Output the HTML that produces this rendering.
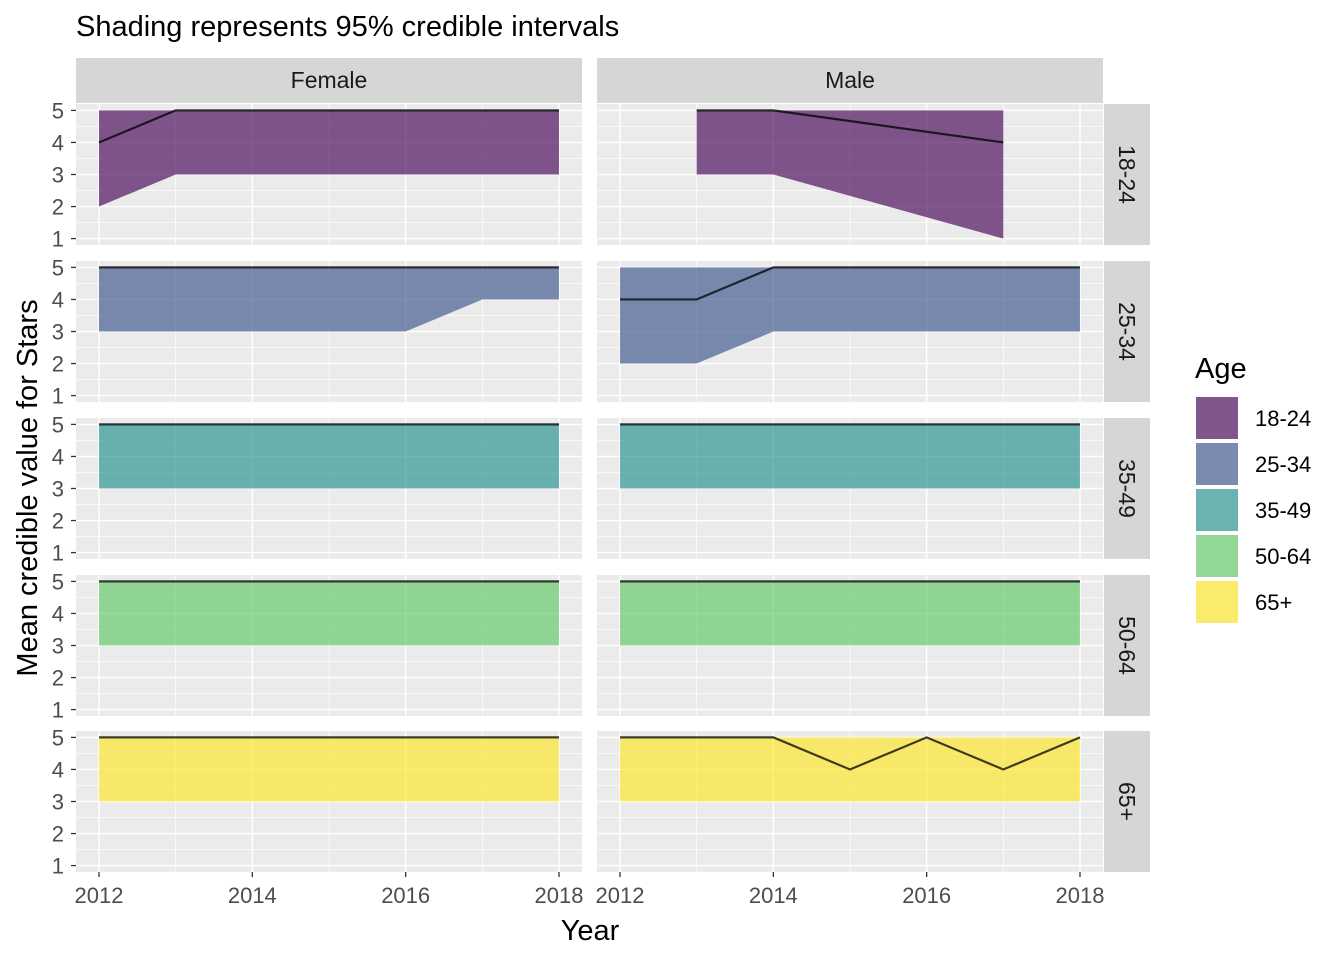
<!DOCTYPE html>
<html><head><meta charset="utf-8"><style>body{margin:0;background:#fff}svg{display:block;font-family:"Liberation Sans",Arial,sans-serif}</style></head>
<body>
<svg id="c" width="1344" height="960" xmlns="http://www.w3.org/2000/svg"></svg>
<script>
const ages=["18-24","25-34","35-49","50-64","65+"];
const sexes=["Female","Male"];
const colors=["#440154","#3B528B","#21908C","#5DC863","#FDE725"];
const yTicks=[1,2,3,4,5];
const xTicks=[2012,2014,2016,2018];
const years={
 "Female":[[2012,2013,2014,2015,2016,2017,2018],[2012,2013,2014,2015,2016,2017,2018],[2012,2013,2014,2015,2016,2017,2018],[2012,2013,2014,2015,2016,2017,2018],[2012,2013,2014,2015,2016,2017,2018]],
 "Male":[[2013,2014,2017],[2012,2013,2014,2015,2016,2017,2018],[2012,2013,2014,2015,2016,2017,2018],[2012,2013,2014,2015,2016,2017,2018],[2012,2013,2014,2015,2016,2017,2018]]
};
const means={
 "Female":[[4,5,5,5,5,5,5],[5,5,5,5,5,5,5],[5,5,5,5,5,5,5],[5,5,5,5,5,5,5],[5,5,5,5,5,5,5]],
 "Male":[[5,5,4],[4,4,5,5,5,5,5],[5,5,5,5,5,5,5],[5,5,5,5,5,5,5],[5,5,5,4,5,4,5]]
};
const lowers={
 "Female":[[2,3,3,3,3,3,3],[3,3,3,3,3,4,4],[3,3,3,3,3,3,3],[3,3,3,3,3,3,3],[3,3,3,3,3,3,3]],
 "Male":[[3,3,1],[2,2,3,3,3,3,3],[3,3,3,3,3,3,3],[3,3,3,3,3,3,3],[3,3,3,3,3,3,3]]
};
const uppers={
 "Female":[[5,5,5,5,5,5,5],[5,5,5,5,5,5,5],[5,5,5,5,5,5,5],[5,5,5,5,5,5,5],[5,5,5,5,5,5,5]],
 "Male":[[5,5,5],[5,5,5,5,5,5,5],[5,5,5,5,5,5,5],[5,5,5,5,5,5,5],[5,5,5,5,5,5,5]]
};
const svg=document.getElementById('c');
const NS="http://www.w3.org/2000/svg";
function mk(t,a,p){const e=document.createElementNS(NS,t);for(const k in a)e.setAttribute(k,a[k]);(p||svg).appendChild(e);return e;}
const panelX=[76,597],panelW=506,rowY=[104,261,418,575,731],panelH=141;
function xs(px,v){return px+(v-2011.7)/6.6*panelW;}
function ys(py,v){return py+(5.2-v)/4.4*panelH;}
let t=mk('text',{x:76,y:36,'font-size':29,fill:'#000'});t.textContent="Shading represents 95% credible intervals";

sexes.forEach((s,si)=>{
 const px=panelX[si];
 let r=mk('rect',{x:px,y:58,width:panelW,height:45,fill:'#D6D6D6'});
 
 let tt=mk('text',{x:px+panelW/2,y:88,'font-size':23,fill:'#1A1A1A','text-anchor':'middle'});tt.textContent=s;
 
 ages.forEach((a,ai)=>{
  const py=rowY[ai];
  const g=mk('g',{});
  
  mk('rect',{x:px,y:py,width:panelW,height:panelH,fill:'#EBEBEB'},g);
  [1.5,2.5,3.5,4.5].forEach(v=>mk('line',{x1:px,x2:px+panelW,y1:ys(py,v),y2:ys(py,v),stroke:'#fff','stroke-width':0.7},g));
  [2013,2015,2017].forEach(v=>mk('line',{x1:xs(px,v),x2:xs(px,v),y1:py,y2:py+panelH,stroke:'#fff','stroke-width':0.7},g));
  yTicks.forEach(v=>mk('line',{x1:px,x2:px+panelW,y1:ys(py,v),y2:ys(py,v),stroke:'#fff','stroke-width':1.4},g));
  xTicks.forEach(v=>mk('line',{x1:xs(px,v),x2:xs(px,v),y1:py,y2:py+panelH,stroke:'#fff','stroke-width':1.4},g));
  const yr=years[s][ai],m=means[s][ai],lo=lowers[s][ai],up=uppers[s][ai];
  let pts=yr.map((y,i)=>xs(px,y)+','+ys(py,up[i]));
  for(let i=yr.length-1;i>=0;i--)pts.push(xs(px,yr[i])+','+ys(py,lo[i]));
  let ar=mk('polygon',{points:pts.join(' '),fill:colors[ai],'fill-opacity':0.65},g);
  
  let ln=mk('polyline',{points:yr.map((y,i)=>xs(px,y)+','+ys(py,m[i])).join(' '),fill:'none',stroke:'#000','stroke-opacity':0.75,'stroke-width':2.2},g);
  
  if(si===0){
   yTicks.forEach(v=>{mk('line',{x1:px-5,x2:px,y1:ys(py,v),y2:ys(py,v),stroke:'#333','stroke-width':1.3});
    let l=mk('text',{x:px-12,y:ys(py,v)+8,'font-size':22,fill:'#4D4D4D','text-anchor':'end'});l.textContent=v;
    });
  }
 });
 xTicks.forEach(v=>{const x=xs(px,v);mk('line',{x1:x,x2:x,y1:872,y2:877,stroke:'#333','stroke-width':1.3});
  let l=mk('text',{x:x,y:903,'font-size':22,fill:'#4D4D4D','text-anchor':'middle'});l.textContent=v;
  });
});
ages.forEach((a,ai)=>{
 const py=rowY[ai];
 let r=mk('rect',{x:1104,y:py,width:46,height:panelH,fill:'#D6D6D6'});
 
 let tt=mk('text',{x:0,y:0,'font-size':23,fill:'#1A1A1A','text-anchor':'middle',transform:`translate(1119,${py+panelH/2}) rotate(90)`});tt.textContent=a;
 
});
t=mk('text',{x:590,y:940,'font-size':29,fill:'#000','text-anchor':'middle'});t.textContent="Year";

t=mk('text',{x:0,y:0,'font-size':29,fill:'#000','text-anchor':'middle',transform:'translate(37,488) rotate(-90)'});t.textContent="Mean credible value for Stars";

t=mk('text',{x:1195,y:378,'font-size':29,fill:'#000'});t.textContent="Age";

ages.forEach((a,ai)=>{
 const y=397+ai*46;
 const g=mk('g',{});
 mk('rect',{x:1196,y:y,width:42,height:42,fill:'#F2F2F2'},g);
 mk('rect',{x:1196,y:y,width:42,height:42,fill:colors[ai],'fill-opacity':0.65},g);
 let l=mk('text',{x:1255,y:y+29,'font-size':22,fill:'#000'},g);l.textContent=a;
});
</script>
</body></html>
